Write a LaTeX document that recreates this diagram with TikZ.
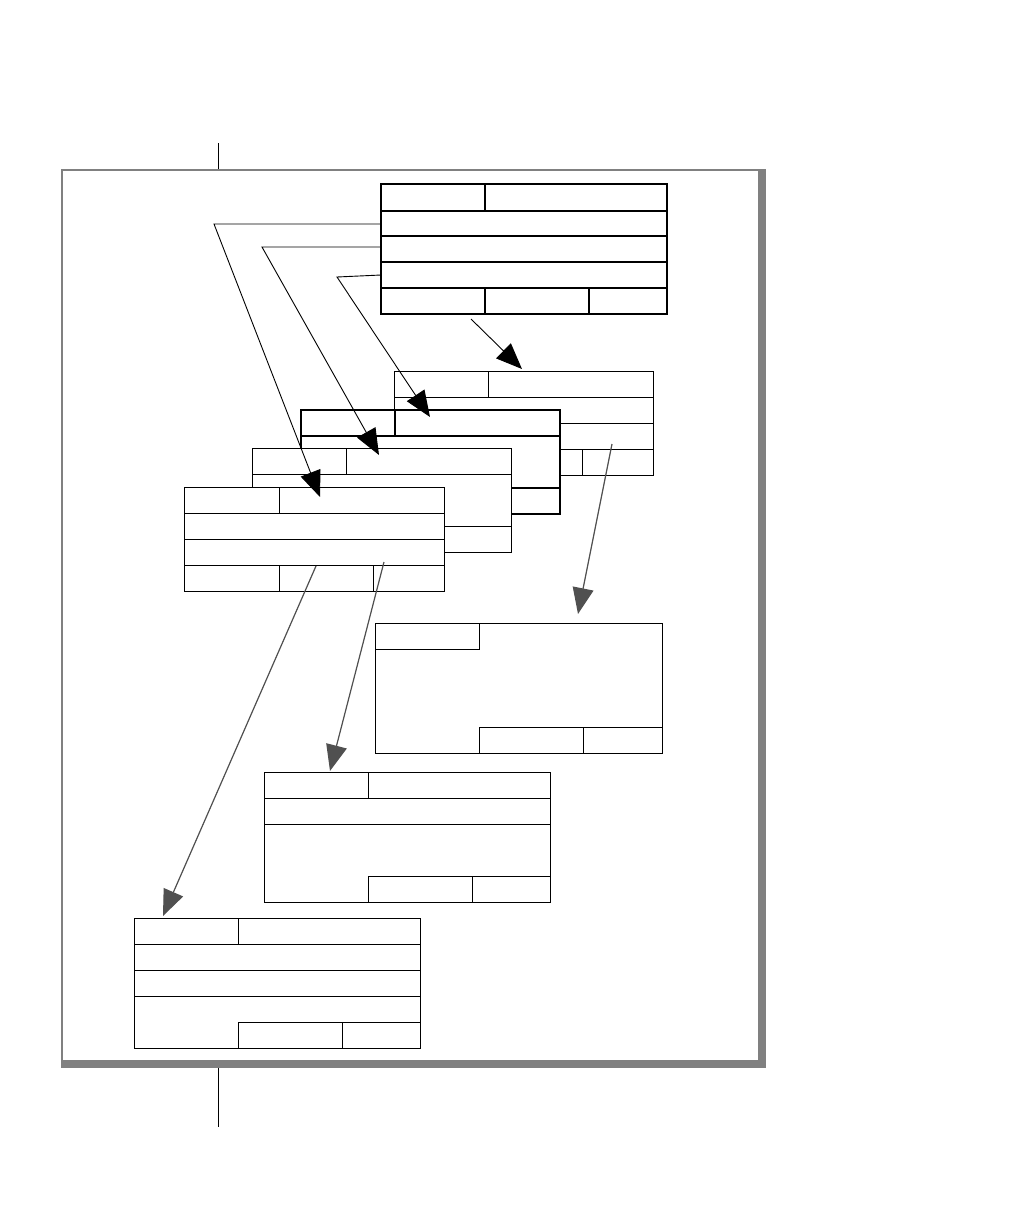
\documentclass[tikz,border=0pt]{standalone}
\usetikzlibrary{arrows.meta}

\definecolor{framegray}{RGB}{128,128,128}
\definecolor{linkgray}{RGB}{80,80,80}

\begin{document}
\begin{tikzpicture}[
        x=1pt, y=-1pt,
        card/.style={
            rectangle,
            draw=black,
            fill=white,
            line width=1pt,
            anchor=north west,
            inner sep=0pt,
            outer sep=0pt
        },
        thickcard/.style={card, line width=1.8pt},
        link/.style={
            draw=black,
            line width=0.9pt,
            -{Triangle[length=26pt,width=21pt]}
        },
        greylink/.style={link, draw=linkgray, fill=linkgray, line width=1.2pt}
    ]
    \useasboundingbox (0,0) rectangle (1010,1224);

    % Rahmen
    \draw[framegray, line width=2pt] (62,1061) -- (62,170) -- (759,170);
    \fill[framegray] (758,169) rectangle (766,1068);
    \fill[framegray] (61,1060) rectangle (766,1068);
    \draw[line width=0.8pt] (218,143) -- (218,169);
    \draw[line width=0.8pt] (218,1068) -- (218,1127);

    % Oberer Satz
    \node[thickcard, minimum width=286pt, minimum height=130pt] (A) at (381,184) {};
    \begin{scope}[line width=1.8pt]
        \foreach \y in {211,236,262,288} \draw (381,\y) -- (667,\y);
        \draw (485,184) -- (485,211);
        \draw (485,288) -- (485,314);
        \draw (589,288) -- (589,314);
    \end{scope}

    % Stapel
    \node[card, minimum width=259pt, minimum height=104pt] (B) at (394,371) {};
    \foreach \y in {397,423,449} \draw (394,\y) -- (653,\y);
    \draw (488,371) -- (488,397);
    \draw (488,449) -- (488,475);
    \draw (582,449) -- (582,475);

    \node[thickcard, minimum width=259pt, minimum height=104pt] (C) at (301,410) {};
    \begin{scope}[line width=1.8pt]
        \foreach \y in {436,488} \draw (301,\y) -- (560,\y);
        \draw (395,410) -- (395,436);
    \end{scope}

    \node[card, minimum width=259pt, minimum height=104pt] (D) at (252,448) {};
    \foreach \y in {474,526} \draw (252,\y) -- (511,\y);
    \draw (346,448) -- (346,474);

    \node[card, minimum width=260pt, minimum height=104pt] (E) at (184,487) {};
    \foreach \y in {513,539,565} \draw (184,\y) -- (444,\y);
    \draw (279,487) -- (279,513);
    \draw (279,565) -- (279,591);
    \draw (373,565) -- (373,591);

    % Untere Saetze
    \node[card, minimum width=287pt, minimum height=130pt] (F) at (375,623) {};
    \draw (375,649) -- (479,649) -- (479,623);
    \draw (479,753) -- (479,727) -- (662,727);
    \draw (583,727) -- (583,753);

    \node[card, minimum width=286pt, minimum height=130pt] (G) at (264,772) {};
    \draw (368,772) -- (368,798);
    \foreach \y in {798,824} \draw (264,\y) -- (550,\y);
    \draw (368,902) -- (368,876) -- (550,876);
    \draw (472,876) -- (472,902);

    \node[card, minimum width=286pt, minimum height=130pt] (H) at (134,918) {};
    \draw (238,918) -- (238,944);
    \foreach \y in {944,970,996} \draw (134,\y) -- (420,\y);
    \draw (238,1048) -- (238,1022) -- (420,1022);
    \draw (342,1022) -- (342,1048);

    % Verbindungen
    \coordinate (a0) at (471,319);
    \coordinate (b0) at (522,369);
    \coordinate (a2) at (381,224);
    \coordinate (k2) at (214,224);
    \coordinate (e0) at (320,497);
    \coordinate (a3) at (381,247);
    \coordinate (k3) at (262,247);
    \coordinate (d0) at (379,455);
    \coordinate (a4) at (381,275);
    \coordinate (k4) at (337,277);
    \coordinate (c0) at (430,417);
    \coordinate (b1) at (612,444);
    \coordinate (f0) at (578,614);
    \coordinate (e1) at (384,562);
    \coordinate (g0) at (330,771);
    \coordinate (e2) at (316,566);
    \coordinate (h0) at (163,916);

    \draw[link] (a0) -- (b0);
    \draw[link] (a2) -- (k2) -- (e0);
    \draw[link] (a3) -- (k3) -- (d0);
    \draw[link] (a4) -- (k4) -- (c0);
    \draw[greylink] (b1) -- (f0);
    \draw[greylink] (e1) -- (g0);
    \draw[greylink] (e2) -- (h0);

\end{tikzpicture}
\end{document}
